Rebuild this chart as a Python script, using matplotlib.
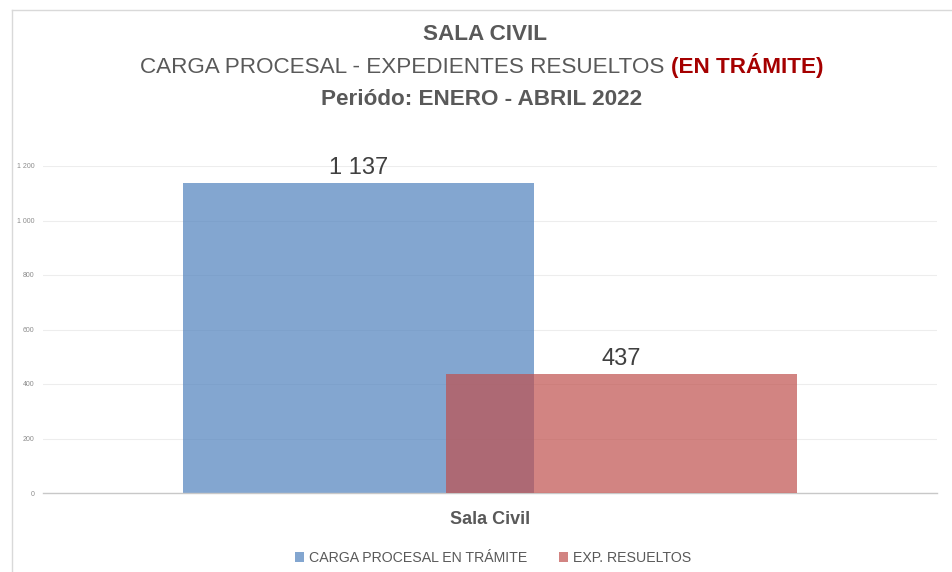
import matplotlib
matplotlib.use("Agg")
import matplotlib.pyplot as plt
from matplotlib import font_manager
from matplotlib.lines import Line2D
from matplotlib.patches import Patch

categories = ["Sala Civil"]
series_names = ["CARGA PROCESAL EN TRÁMITE", "EXP. RESUELTOS"]
values_carga = [1137]
values_resueltos = [437]
y_ticks = [0, 200, 400, 600, 800, 1000, 1200]

names = {f.name for f in font_manager.fontManager.ttflist}
narrow = "Liberation Sans Narrow" if "Liberation Sans Narrow" in names else "Liberation Sans"
plt.rcParams['font.family'] = [narrow, 'DejaVu Sans']


def fmt(v):
    return f"{v:,}".replace(",", " ")


fig = plt.figure(figsize=(9.53, 5.72), dpi=100)
ax = fig.add_axes([43/953, 1-493/572, 894/953, (493-166)/572])

blue = (0x4F/255, 0x81/255, 0xBD/255)
red = (0xC0/255, 0x50/255, 0x4D/255)
w = 0.3926
off = 0.147
x0 = 0
ax.bar(x0 - off, values_carga[0], width=w, color=blue, alpha=0.7, linewidth=0, zorder=2)
ax.bar(x0 + off, values_resueltos[0], width=w, color=red, alpha=0.7, linewidth=0, zorder=3)

ax.text(x0 - off, values_carga[0] + 14, fmt(values_carga[0]),
        ha='center', va='bottom', fontsize=17, color='#404040')
ax.text(x0 + off, values_resueltos[0] + 14, fmt(values_resueltos[0]),
        ha='center', va='bottom', fontsize=17, color='#404040')

ax.set_xlim(-0.5, 0.5)
ax.set_ylim(0, 1200)
ax.set_yticks(y_ticks)
ax.set_yticklabels([fmt(v) for v in y_ticks], fontsize=5, color='#8C8C8C')
ax.tick_params(axis='y', length=0, pad=6)
ax.set_xticks([0])
ax.set_xticklabels(categories, fontsize=13, fontweight='bold', color='#595959')
ax.tick_params(axis='x', length=0, pad=13)
ax.grid(axis='y', color='#EDEDED', linewidth=0.8, zorder=0)
ax.set_axisbelow(True)
for s in ['top', 'right', 'left']:
    ax.spines[s].set_visible(False)
ax.spines['bottom'].set_color('#C8C8C8')
ax.spines['bottom'].set_linewidth(1.0)

# Titles
fs = 16.2
fig.text(0.5085, 1-40/572, "SALA CIVIL", ha='center', va='baseline', fontsize=fs,
         fontweight='bold', color='#595959')
renderer = fig.canvas.get_renderer()
t1 = fig.text(0, 1-73/572, "CARGA PROCESAL - EXPEDIENTES RESUELTOS ", ha='left', va='baseline',
              fontsize=fs, color='#595959')
t2 = fig.text(0, 1-73/572, "(EN TRÁMITE)", ha='left', va='baseline', fontsize=fs,
              fontweight='bold', color='#A50000')
w1 = t1.get_window_extent(renderer).width
w2 = t2.get_window_extent(renderer).width
start = 482 - (w1 + w2) / 2
t1.set_x(start / 953)
t2.set_x((start + w1) / 953)
fig.text(482/953, 1-105/572, "Periódo: ENERO - ABRIL 2022", ha='center', va='baseline',
         fontsize=fs, fontweight='bold', color='#595959')

handles = [Patch(facecolor=blue, alpha=0.7, linewidth=0), Patch(facecolor=red, alpha=0.7, linewidth=0)]
fig.legend(handles, series_names, loc='center', bbox_to_anchor=(493/953, 1-558/572), ncol=2,
           frameon=False, fontsize=10.2, labelcolor='#595959', handlelength=0.65, handleheight=0.65,
           handletextpad=0.35, columnspacing=2.2)

# chart frame
fig.add_artist(Line2D([12/953, 12/953], [0, 1-10/572], color='#D9D9D9', linewidth=1,
                      transform=fig.transFigure))
fig.add_artist(Line2D([12/953, 1], [1-10/572, 1-10/572], color='#D9D9D9', linewidth=1,
                      transform=fig.transFigure))

fig.savefig("out.png", dpi=100)
